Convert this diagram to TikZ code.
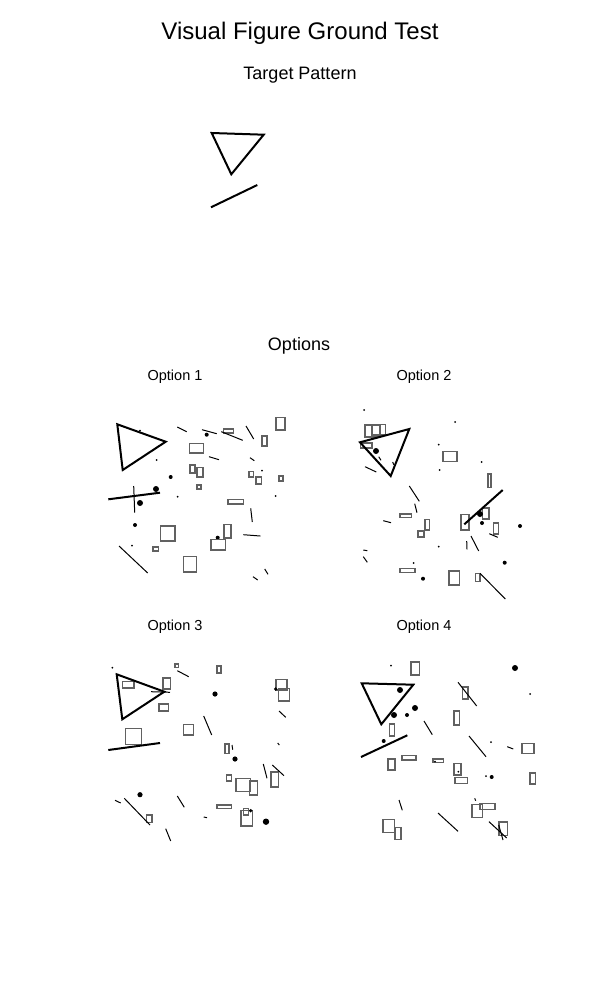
\documentclass[tikz,border=0pt]{standalone}
\usepackage{fontspec}
\setmainfont{Liberation Sans}
\begin{document}
\begin{tikzpicture}[x=1pt,y=-1pt,
  fig/.style={line width=2pt,line join=miter},
  thin/.style={line width=1pt},
  rc/.style={draw=black!62,line width=1.6pt},
  lbl/.style={inner sep=0pt,font=\fontsize{14.5}{16}\selectfont}]
\useasboundingbox[fill=white] (0,0) rectangle (600,1000);
\node[inner sep=0pt,font=\fontsize{24}{28}\selectfont] (title) at (300,33) {Visual Figure Ground Test};
\node[inner sep=0pt,font=\fontsize{18}{20}\selectfont] (target) at (300,75.5) {Target Pattern};
\node[inner sep=0pt,font=\fontsize{18}{20}\selectfont] (options) at (299,345.5) {Options};
\node[lbl] (o1) at (175,376.5) {Option 1};
\node[lbl] (o2) at (424,376.5) {Option 2};
\node[lbl] (o3) at (175,626.5) {Option 3};
\node[lbl] (o4) at (424,626.5) {Option 4};
% target
\draw[fig] (211.7,133) -- (263.7,134.7) -- (231.3,174.3) -- cycle;
\draw[fig] (211,207.3) -- (257.3,185);
% ---------------- Option 1
\draw[fig] (117.3,424.3) -- (165.7,441.7) -- (122.7,470) -- cycle;
\draw[fig] (108.3,499.3) -- (160,492.7);
\draw[thin] (133.7,486) -- (134.7,512.7);
\fill (156,489) circle (3); \fill (140,503) circle (3);
\fill (170.7,477) circle (2); \fill (206.7,434.7) circle (2); \fill (135,525) circle (2); \fill (217.7,537.7) circle (2);
\foreach \p in {(140,430.7),(156.7,460),(177.7,496.7),(262,470.7),(275.7,496),(132,545.7)} \fill \p circle (1);
\draw[rc] (275.7,417.3) rectangle (285,430);
\draw[rc] (223.3,428.7) rectangle (233.3,432.7);
\draw[rc] (261.7,435.7) rectangle (267,446);
\draw[rc] (189.3,443.3) rectangle (203.3,453);
\draw[rc] (190,464.7) rectangle (195,473);
\draw[rc] (196.7,467.3) rectangle (203,477);
\draw[rc] (196.7,484.7) rectangle (201,489);
\draw[rc] (248.7,471.3) rectangle (253.3,477);
\draw[rc] (255.7,476.7) rectangle (261.3,484);
\draw[rc] (278.7,475.7) rectangle (283,481);
\draw[rc] (227.7,499.3) rectangle (243.3,504);
\draw[rc] (223.7,524.3) rectangle (231,538);
\draw[rc] (160.3,525.7) rectangle (175,541);
\draw[rc] (210.7,539.3) rectangle (225.3,550);
\draw[rc] (152.7,546.7) rectangle (158.3,551);
\draw[rc] (183.3,556.3) rectangle (196.3,572);
\draw[thin] (177.3,427) -- (186.7,431.7);
\draw[thin] (202,429.7) -- (216.7,433.7);
\draw[thin] (221.3,431.7) -- (242.7,440.3);
\draw[thin] (246,426) -- (253.7,439);
\draw[thin] (209,456.7) -- (219,459.7);
\draw[thin] (250,457.7) -- (254.3,460.7);
\draw[thin] (250.7,508.3) -- (252.3,522);
\draw[thin] (243.3,534.7) -- (260.3,536);
\draw[thin] (119,546) -- (147.7,573);
\draw[thin] (253,576.7) -- (257.7,580);
\draw[thin] (264.7,569) -- (268,574.3);
% ---------------- Option 2
\draw[rc] (364.7,424.7) rectangle (379.7,436.7);
\draw[rc] (372,424.3) rectangle (385.3,434.7);
\draw[rc] (360.3,442.7) rectangle (372,447.7);
\draw[rc] (442.7,451.3) rectangle (457,461.3);
\draw[rc] (487.7,473.7) rectangle (491,487.3);
\draw[rc] (399.7,513.7) rectangle (411.3,517.3);
\draw[rc] (424.7,519.3) rectangle (429.3,530);
\draw[rc] (417.7,530.7) rectangle (424,537);
\draw[rc] (460.7,514.3) rectangle (469,530);
\draw[rc] (482.3,507.7) rectangle (489,519);
\draw[rc] (493.3,522.7) rectangle (498.3,534);
\draw[rc] (399.7,568.3) rectangle (415,572.3);
\draw[rc] (448.7,570.7) rectangle (459.3,585);
\draw[rc] (475.3,573.3) rectangle (480,581.3);
\draw[fig] (360,442.3) -- (409.3,429) -- (390.7,476) -- cycle;
\draw[fig] (464.3,524.3) -- (502.7,490);
\draw[thin] (378.7,456.7) -- (381,460.3);
\draw[thin] (392.7,462) -- (393.7,464.7);
\fill (376,451) circle (3); \fill (480,514) circle (3);
\fill (482,523) circle (2); \fill (520,526) circle (2); \fill (504.7,562.7) circle (2); \fill (423,578.7) circle (2);
\foreach \p in {(364,410),(455,422),(438.7,444.7),(481.7,462),(439.7,470),(438.7,546.7),(413.7,563)} \fill \p circle (1);
\draw[thin] (365,466.7) -- (376.3,472);
\draw[thin] (409.3,486) -- (419.3,501.3);
\draw[thin] (414.7,503.7) -- (417,512.7);
\draw[thin] (383.3,520.7) -- (391,522.7);
\draw[thin] (471,536) -- (478.7,551);
\draw[thin] (466.7,541) -- (467,549.3);
\draw[thin] (489.3,533.7) -- (497.7,537.3);
\draw[thin] (363.3,550) -- (367.3,550.7);
\draw[thin] (363.3,556.7) -- (367.3,562.3);
\draw[thin] (480,573.3) -- (505.3,599);
% ---------------- Option 3
\draw[rc] (174.7,664) rectangle (178.3,667.3);
\draw[rc] (216.7,665.7) rectangle (220.7,673);
\draw[rc] (122.3,681.3) rectangle (134,688);
\draw[rc] (162.7,677.7) rectangle (170.3,689);
\draw[rc] (158.7,703.7) rectangle (168.3,711);
\draw[rc] (275.7,679.3) rectangle (286.7,690);
\draw[rc] (278.3,688.3) rectangle (289.3,701);
\draw[rc] (183.3,724.3) rectangle (193.3,735);
\draw[rc] (125.3,728.3) rectangle (141.3,744.3);
\draw[rc] (224.7,743.7) rectangle (229,753.3);
\draw[rc] (226.3,774.7) rectangle (231.3,781);
\draw[rc] (235.7,778.3) rectangle (250.3,791.3);
\draw[rc] (249.3,780.7) rectangle (257.3,795);
\draw[rc] (270.7,771.7) rectangle (278.3,787);
\draw[rc] (216.7,804.7) rectangle (231.3,808.3);
\draw[rc] (241,810.3) rectangle (252.3,826);
\draw[rc] (243.3,808.3) rectangle (248.3,815);
\draw[rc] (146.3,814.7) rectangle (152,822.3);
\draw[fig] (116.7,674.3) -- (164.3,691.7) -- (122.3,719.3) -- cycle;
\draw[fig] (108.3,750) -- (160,743);
\draw[thin] (151,691.7) -- (170,692.3);
\fill (215,694) circle (2.6); \fill (235,759) circle (2.6); \fill (140,794.7) circle (2.6);
\fill (266,821.7) circle (3.2); \fill (275.7,689) circle (1.8); \fill (250.7,810.7) circle (1.8);
\fill (112.3,667.7) circle (1);
\draw[thin] (177.3,670.7) -- (188.7,676.7);
\draw[thin] (203.7,716) -- (211.7,735);
\draw[thin] (232,745) -- (232.7,749.7);
\draw[thin] (279,711) -- (285.7,717.3);
\draw[thin] (277.7,743) -- (279.3,745);
\draw[thin] (263.3,764) -- (267,778.3);
\draw[thin] (272.3,765) -- (284,775.7);
\draw[thin] (115,800.3) -- (120.7,803);
\draw[thin] (124.3,798.3) -- (150,825);
\draw[thin] (177.3,796) -- (184.3,807.3);
\draw[thin] (203.7,817) -- (207,817.7);
\draw[thin] (165.7,828.7) -- (170.7,841);
% ---------------- Option 4
\draw[rc] (410.7,661.7) rectangle (419.3,675);
\draw[rc] (462.3,686.7) rectangle (467.7,699);
\draw[rc] (453.7,710.7) rectangle (459.3,725);
\draw[rc] (389.3,723.7) rectangle (394.3,736);
\draw[rc] (521.7,743.3) rectangle (534,753.3);
\draw[rc] (401.7,755.3) rectangle (416,760);
\draw[rc] (387.7,758.7) rectangle (395,770);
\draw[rc] (432.7,758.7) rectangle (443.3,762.3);
\draw[rc] (453.7,763.3) rectangle (461,775);
\draw[rc] (454.7,777.3) rectangle (467.3,783.3);
\draw[rc] (529.7,773) rectangle (535.3,784);
\draw[rc] (471.7,804.3) rectangle (482.3,817.3);
\draw[rc] (479.7,803.3) rectangle (495,809.3);
\draw[rc] (382.7,819.3) rectangle (394.3,832.3);
\draw[rc] (395,827.3) rectangle (400.7,839.3);
\draw[rc] (498.7,821.7) rectangle (507.3,835.3);
\draw[fig] (361.7,683.3) -- (413.3,684.7) -- (381.3,724.3) -- cycle;
\draw[fig] (361,757) -- (407.3,735.3);
\fill (515,668) circle (3); \fill (400,690) circle (3); \fill (415,708) circle (3); \fill (394,715) circle (3);
\fill (407,715) circle (2); \fill (383.7,741) circle (2); \fill (491.7,777) circle (2);
\foreach \p in {(391,665.7),(530,694),(491,742),(486,776),(458.3,771.7),(435,761.7)} \fill \p circle (1);
\draw[thin] (458,682.3) -- (476.7,706);
\draw[thin] (424,721) -- (432.3,734.7);
\draw[thin] (469,736) -- (486,756.7);
\draw[thin] (507.3,746.7) -- (513.3,749);
\draw[thin] (399,800) -- (402.3,810.3);
\draw[thin] (438,813) -- (458,831.3);
\draw[thin] (489,821.7) -- (506.7,838);
\draw[thin] (498.7,825) -- (503,840);
\draw[thin] (474.7,798.3) -- (475.7,800.7);
\end{tikzpicture}
\end{document}
